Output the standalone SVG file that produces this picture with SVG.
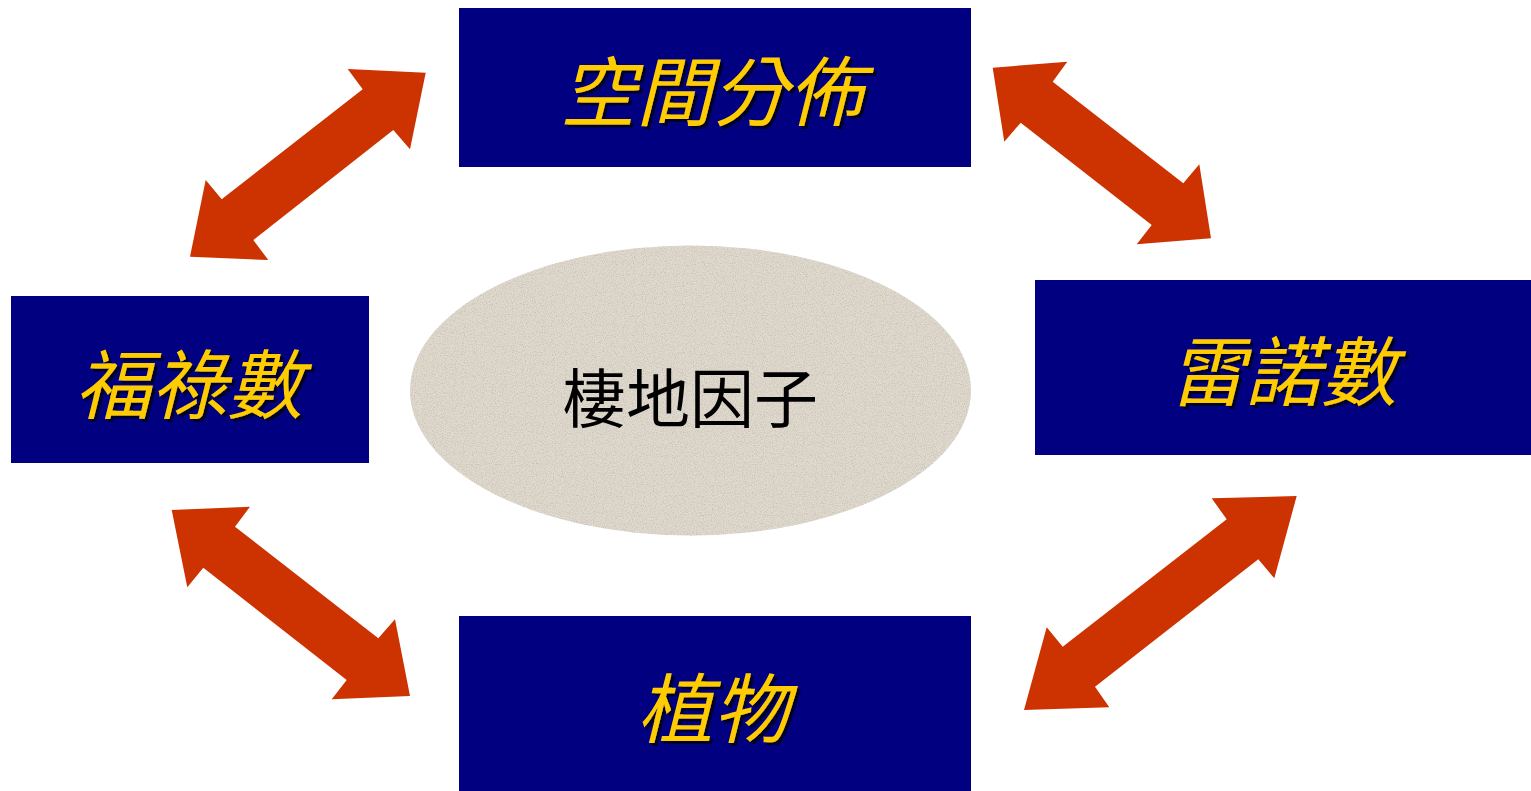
<svg xmlns="http://www.w3.org/2000/svg" width="1531" height="791" viewBox="0 0 1531 791">
<style>
.box{fill:#000080}
.lbl{font-family:"Noto Sans CJK TC","Noto Sans CJK SC",sans-serif;font-size:76px;font-style:italic;fill:#FFCC00;text-anchor:middle;dominant-baseline:central;filter:url(#shadow)}
.arr{fill:#CC3300}
.ctr{font-family:"Noto Sans CJK TC","Noto Sans CJK SC",sans-serif;font-size:64px;fill:#000;text-anchor:middle;dominant-baseline:central}
</style>
<defs>
<filter id="shadow" x="-10%" y="-20%" width="130%" height="150%">
<feDropShadow dx="3" dy="3" stdDeviation="0.6" flood-color="#000020" flood-opacity="0.9"/>
</filter>
<filter id="speck" x="0" y="0" width="100%" height="100%">
<feTurbulence type="fractalNoise" baseFrequency="0.9" numOctaves="2" seed="3" result="n"/>
<feColorMatrix in="n" type="matrix" values="0 0 0 0 0.55  0 0 0 0 0.5  0 0 0 0 0.45  0 0 0 -2.2 1.25" result="s"/>
<feComposite in="s" in2="SourceGraphic" operator="in" result="sp"/>
<feMerge><feMergeNode in="SourceGraphic"/><feMergeNode in="sp"/></feMerge>
</filter>
</defs>
<rect width="1531" height="791" fill="#fff"/>
<g id="connectors">
<polygon class="arr" points="425.7,72.7 410,149.3 393.3,130 253.3,240 268.3,260 190,256.7 205.7,180 221.7,199.3 362.7,89.3 347.7,69"/>
<polygon class="arr" points="992.7,67.7 1067.3,61.7 1052.7,81.7 1183.3,183.3 1199.3,164.3 1211,238.3 1136.7,244.3 1151.7,225 1020.7,122.7 1004.3,141.7"/>
<polygon class="arr" points="171.7,510 250,506.7 235,526.7 378.3,638.3 395,619.3 410,696 331.7,699.3 346.7,680 203.3,567.7 187.3,587.3"/>
<polygon class="arr" points="1296.7,496 1274.3,578.3 1258.3,559.3 1095,686.7 1109.3,707.3 1024,710 1046.7,627.3 1062.7,646.7 1226.7,519.3 1211.7,498.3"/>
</g>
<g id="center">
<ellipse cx="690.5" cy="390.5" rx="280.5" ry="145" fill="#E0D9CD" filter="url(#speck)"/>
<text class="ctr" x="690" y="394">棲地因子</text>
</g>
<g id="top">
<rect class="box" x="459" y="8" width="512" height="159"/>
<text class="lbl" x="712" y="87">空間分佈</text>
</g>
<g id="left">
<rect class="box" x="11" y="296" width="358" height="167"/>
<text class="lbl" x="189" y="380">福祿數</text>
</g>
<g id="right">
<rect class="box" x="1035" y="280" width="496" height="175"/>
<text class="lbl" x="1283" y="367">雷諾數</text>
</g>
<g id="bottom">
<rect class="box" x="459" y="616" width="512" height="175"/>
<text class="lbl" x="713" y="704">植物</text>
</g>
</svg>
